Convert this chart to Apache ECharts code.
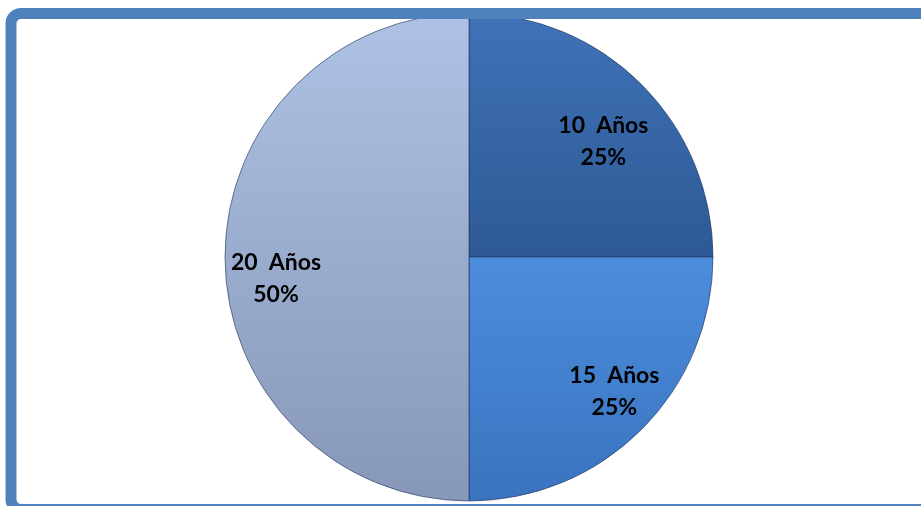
<!DOCTYPE html>
<html>
<head>
<meta charset="utf-8">
<script src="https://cdn.jsdelivr.net/npm/echarts@6/dist/echarts.min.js"></script>
<style>
  html, body { margin: 0; padding: 0; background: #ffffff; }
  #chart { width: 921px; height: 506px; }
</style>
</head>
<body>
<div id="chart"></div>
<script>
// Distribution by term (years)
const categories = ['10  Años', '15  Años', '20  Años'];
const values = [25, 25, 50];

// Slice fills: top and bottom colour of each vertical gradient
const fillTop = ['#3f72b8', '#4c8ddc', '#adc2e4'];
const fillBottom = ['#2d5a95', '#3a73bf', '#8797b9'];
// Label nudges from the default inside position
const labelOffsets = [[46, -27], [57, 46], [-68, 22]];

const chart = echarts.init(document.getElementById('chart'), null, { renderer: 'canvas' });

const data = categories.map((name, i) => ({
  name: name,
  value: values[i],
  itemStyle: {
    color: new echarts.graphic.LinearGradient(0, 0, 0, 1, [
      { offset: 0, color: fillTop[i] },
      { offset: 1, color: fillBottom[i] }
    ])
  },
  label: { offset: labelOffsets[i] }
}));

chart.setOption({
  animation: false,
  backgroundColor: '#ffffff',
  series: [{
    type: 'pie',
    center: [469, 257],
    radius: [0, 244],
    startAngle: 90,
    clockwise: true,
    avoidLabelOverlap: false,
    itemStyle: {
      borderColor: 'rgba(30,50,90,0.6)',
      borderWidth: 1
    },
    label: {
      show: true,
      position: 'inside',
      formatter: p => p.name + '\n' + p.percent.toFixed(0) + '%',
      color: '#000000',
      fontFamily: 'Lato, "Open Sans", sans-serif',
      fontWeight: 'bold',
      fontSize: 23,
      lineHeight: 32,
      align: 'center'
    },
    labelLine: { show: false },
    emphasis: { disabled: true },
    data: data
  }],
  graphic: [{
    type: 'rect',
    z: 100,
    shape: { x: 11, y: 13.5, width: 950, height: 496, r: 10 },
    style: { fill: 'none', stroke: '#4f81bd', lineWidth: 11 }
  }]
});
</script>
</body>
</html>
